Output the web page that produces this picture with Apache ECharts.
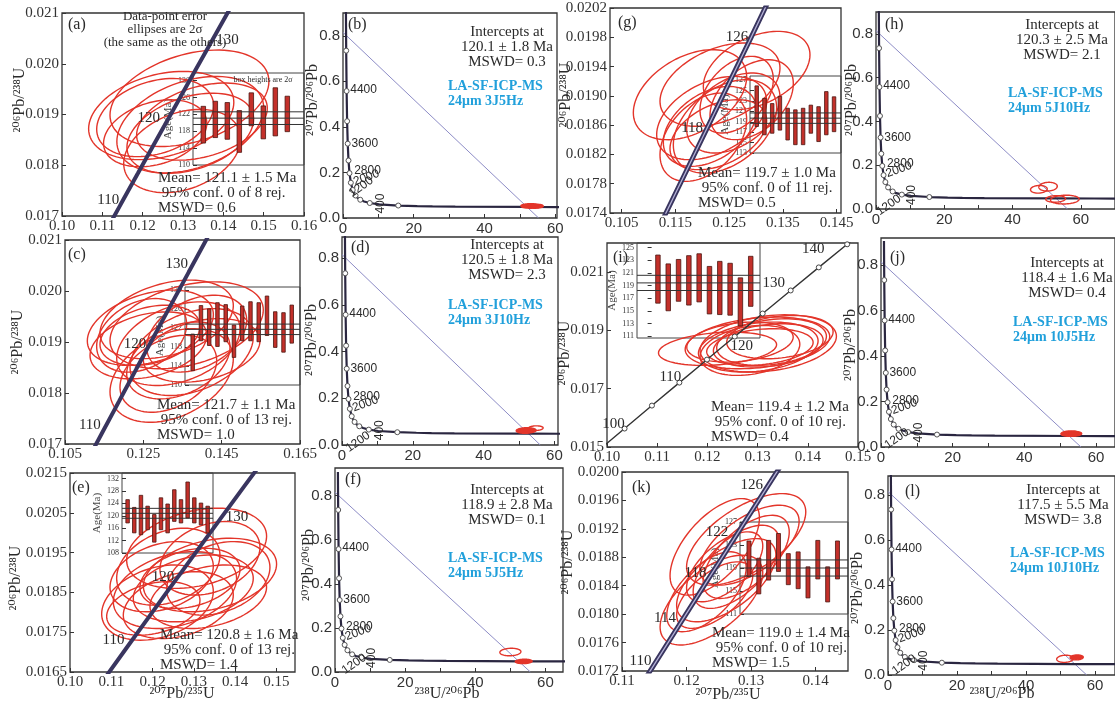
<!DOCTYPE html>
<html>
<head>
<meta charset="utf-8">
<script src="https://cdn.jsdelivr.net/npm/echarts@6/dist/echarts.min.js"></script>
<style>html,body{margin:0;background:#fff}#chart{width:1115px;height:709px}</style>
</head>
<body>
<div id="chart"></div>
<script>
// concordia reference points: age (Ma), 207Pb/235U, 206Pb/238U
const CONC_AGES = [95, 100, 105, 110, 114, 115, 118, 120, 122, 125, 126, 130, 135, 140, 145];
const CONC_X = [0.09808, 0.10350, 0.10895, 0.11442, 0.11882, 0.11992, 0.12323, 0.12545, 0.12767, 0.13101, 0.13212, 0.13659, 0.14219, 0.14784, 0.15350];
const CONC_Y = [0.014846, 0.015633, 0.016421, 0.017210, 0.017841, 0.018000, 0.018474, 0.018789, 0.019105, 0.019580, 0.019738, 0.020371, 0.021163, 0.021955, 0.022748];
// panel g concordia
const CONC_G_AGES = [106, 118, 126, 132];
const CONC_G_X = [0.1106, 0.1209, 0.1287, 0.1343];
const CONC_G_Y = [0.0170, 0.01856, 0.01974, 0.0206];

// Tera-Wasserburg concordia: age (Ma), 238U/206Pb, 207Pb/206Pb
const TW_AGES = [90, 100, 120, 200, 250, 300, 400, 600, 800, 1000, 1200, 1400, 1600, 2000, 2400, 2800, 3200, 3600, 4000, 4400, 4800, 5000, 5100];
const TW_X = [71.13, 63.97, 53.22, 31.74, 25.29, 20.99, 15.62, 10.25, 7.568, 5.959, 4.888, 4.122, 3.550, 2.749, 2.217, 1.838, 1.556, 1.337, 1.163, 1.022, 0.905, 0.853, 0.829];
const TW_Y = [0.04782, 0.04802, 0.04843, 0.05011, 0.05120, 0.05233, 0.05470, 0.05991, 0.06579, 0.07249, 0.08012, 0.08880, 0.09872, 0.12300, 0.15483, 0.19682, 0.25245, 0.3264, 0.4250, 0.5572, 0.7348, 0.8455, 0.9070];
const TW_MARKS = [400, 800, 1200, 1600, 2000, 2400, 2800, 3200, 3600, 4000, 4400, 4800];
const DISC_TOP = 0.815;
const DISC_END = [55.3, 56.0, 55.7, 56.1, 55.8, 57.6]; // b d f h j l

// error ellipses: [x, y, half-width x, half-height y, correlation, filled]
const ELL_A = [[0.1316,0.01932,0.0197,0.00095,0.35],[0.1246,0.01898,0.0180,0.00087,0.3],[0.1231,0.01894,0.0145,0.00077,0.3],[0.1318,0.01880,0.0182,0.00095,0.35],[0.1298,0.01828,0.0145,0.00082,0.3],[0.1318,0.01863,0.0157,0.00079,0.35],[0.1231,0.01863,0.0128,0.00066,0.3],[0.1347,0.01886,0.0162,0.00076,0.35]];
const ELL_C = [[0.12679,0.019279,0.01609,0.000738,0.35],[0.13096,0.019443,0.01702,0.00077,0.35],[0.13606,0.019328,0.01957,0.000852,0.35],[0.12457,0.019131,0.01149,0.000721,0.3],[0.12628,0.018934,0.01489,0.000656,0.3],[0.13394,0.018967,0.01574,0.00082,0.35],[0.13734,0.018803,0.01574,0.000852,0.35],[0.13989,0.018836,0.01489,0.000623,0.3],[0.13223,0.018344,0.01574,0.000918,0.35],[0.13394,0.018639,0.01319,0.000754,0.35],[0.1267,0.019131,0.01277,0.00059,0.3],[0.13862,0.019164,0.01277,0.000754,0.35],[0.13138,0.018377,0.01234,0.000754,0.35]];
const ELL_E = [[0.12119,0.018244,0.01352,0.000945,0.3],[0.12542,0.018559,0.01493,0.000966,0.3],[0.13067,0.019609,0.01695,0.001008,0.3],[0.1339,0.018937,0.01614,0.000924,0.3],[0.12381,0.019147,0.01251,0.000966,0.3],[0.12986,0.018601,0.01453,0.00084,0.3],[0.12018,0.018097,0.0113,0.000672,0.3],[0.13349,0.018391,0.01412,0.000798,0.3],[0.1222,0.018895,0.01251,0.000882,0.3],[0.1339,0.019357,0.01211,0.000924,0.3],[0.12623,0.018181,0.01332,0.00084,0.3],[0.12906,0.018853,0.01211,0.000756,0.3],[0.13592,0.018853,0.01251,0.000924,0.3]];
const ELL_G = [[0.11771,0.019016,0.01054,0.000615,0.4],[0.12329,0.019153,0.01116,0.000569,0.4],[0.13011,0.019346,0.00992,0.000535,0.4],[0.12174,0.018697,0.01023,0.000569,0.4],[0.12143,0.018583,0.00868,0.000546,0.4],[0.12422,0.018583,0.00961,0.000638,0.4],[0.12019,0.018435,0.00806,0.000603,0.4],[0.12577,0.018766,0.00868,0.000546,0.4],[0.12639,0.019016,0.00682,0.000524,0.4],[0.12298,0.01847,0.00899,0.000478,0.4],[0.12918,0.018948,0.00775,0.000546,0.4]];
const ELL_I = [[0.12202,0.018371,0.01176,0.000571,0.25],[0.12997,0.018571,0.0144,0.000886,0.25],[0.13212,0.018554,0.01358,0.000983,0.25],[0.13013,0.018429,0.01192,0.000857,0.25],[0.13278,0.0186,0.01093,0.0008,0.25],[0.12848,0.018314,0.00993,0.000857,0.25],[0.13444,0.018771,0.0106,0.000743,0.25],[0.13046,0.018429,0.0106,0.000629,0.25],[0.13212,0.018486,0.01093,0.000743,0.25],[0.12649,0.0186,0.0106,0.000686,0.25]];
const ELL_K = [[0.12385,0.018198,0.00795,0.000632,0.6],[0.12436,0.018947,0.00692,0.000679,0.6],[0.12923,0.019052,0.00923,0.000644,0.6],[0.12769,0.018666,0.00667,0.000585,0.6],[0.12308,0.018315,0.00615,0.000562,0.6],[0.12923,0.018806,0.00667,0.000585,0.6],[0.12615,0.018478,0.00769,0.000585,0.6],[0.12974,0.01897,0.00769,0.000562,0.6],[0.1259,0.018666,0.0059,0.000492,0.6],[0.12436,0.018268,0.0059,0.000468,0.6]];
const TW_ELL_B = [[53.5,0.052,3.0,0.009,0.2,1],[52.6,0.055,2.3,0.008,0.2,1],[54.6,0.050,2.0,0.007,0.2,1]];
const TW_ELL_D = [[52.0,0.062,2.8,0.012,0.1,1],[54.7,0.072,2.1,0.010,0.1,0]];
const TW_ELL_F = [[50.0,0.0906,3.0,0.017,0.1,0],[53.8,0.048,2.4,0.010,0.1,1]];
const TW_ELL_H = [[47.7,0.090,2.45,0.0175,0.1,0],[50.4,0.102,2.7,0.02,0.1,0],[52.6,0.046,2.9,0.015,0.1,0],[55.3,0.043,4.2,0.020,0.1,0]];
const TW_ELL_J = [[52.8,0.059,2.6,0.012,0.1,1],[54.0,0.058,2.0,0.010,0.1,1]];
const TW_ELL_L = [[51.3,0.072,2.4,0.016,0.1,0],[54.7,0.078,1.9,0.011,0.1,1]];

// weighted-mean age boxes: [low, high] (Ma)
const BARS_A = [[115.2,123.9],[116.5,125.1],[116.1,124.8],[113.0,122.9],[119.3,127.1],[116.2,124.0],[116.9,128.3],[117.9,126.3]];
const BARS_C = [[113.0,120.7],[119.3,126.7],[118.3,126.0],[118.1,127.3],[119.1,126.9],[115.8,122.6],[119.3,126.6],[119.3,127.5],[119.1,127.3],[120.4,128.7],[117.9,125.4],[116.9,125.2],[118.8,126.8]];
const BARS_E = [[117.7,125.2],[114.5,122.7],[113.9,126.6],[115.5,123.1],[111.5,120.4],[115.5,125.8],[114.5,123.8],[118.2,128.4],[117.7,125.2],[119.3,130.9],[117.7,125.8],[117.1,124.1],[114.5,123.1]];
const BARS_G = [[118.1,125.9],[116.5,123.5],[116.8,122.5],[117.4,123.9],[115.5,121.6],[114.6,121.3],[114.6,121.6],[116.8,122.2],[115.2,121.9],[116.5,124.8],[117.1,123.8]];
const BARS_I = [[116.2,123.8],[115.0,122.4],[116.5,123.1],[115.9,123.7],[116.4,124.0],[114.5,122.0],[114.4,122.8],[114.3,122.5],[112.6,120.2],[115.7,123.6]];
const BARS_K = [[117.5,123.7],[114.5,120.7],[116.9,123.8],[118.4,125.0],[116.1,121.5],[115.4,121.8],[113.8,119.2],[117.1,123.8],[113.1,119.2],[117.1,123.7]];
// weighted mean [age, 2s error, n, MSWD]
const MEAN_A = [121.1, 1.5, 8, '0.6'];
const MEAN_C = [121.7, 1.1, 13, '1.0'];
const MEAN_E = [120.8, 1.6, 13, '1.4'];
const MEAN_G = [119.7, 1.0, 11, '0.5'];
const MEAN_I = [119.4, 1.2, 10, '0.4'];
const MEAN_K = [119.0, 1.4, 10, '1.5'];
// lower intercepts [age, error, MSWD] and run settings
const ICPT = [[120.1, 1.8, '0.3'], [120.5, 1.8, '2.3'], [118.9, 2.8, '0.1'], [120.3, 2.5, '2.1'], [118.4, 1.6, '0.4'], [117.5, 5.5, '3.8']];
const RUNS = ['24μm 3J5Hz', '24μm 3J10Hz', '24μm 5J5Hz', '24μm 5J10Hz', '24μm 10J5Hz', '24μm 10J10Hz'];

// tick labels
const XT_A = [0.10, 0.11, 0.12, 0.13, 0.14, 0.15, 0.16];
const YT_A = [0.017, 0.018, 0.019, 0.020, 0.021];
const XT_C = [0.105, 0.125, 0.145, 0.165];
const XT_E = [0.10, 0.11, 0.12, 0.13, 0.14, 0.15];
const YT_E = [0.0165, 0.0175, 0.0185, 0.0195, 0.0205, 0.0215];
const XT_G = [0.105, 0.115, 0.125, 0.135, 0.145];
const YT_G = [0.0174, 0.0178, 0.0182, 0.0186, 0.0190, 0.0194, 0.0198, 0.0202];
const XT_I = [0.10, 0.11, 0.12, 0.13, 0.14, 0.15];
const YT_I = [0.015, 0.017, 0.019, 0.021];
const XT_K = [0.11, 0.12, 0.13, 0.14];
const YT_K = [0.0172, 0.0176, 0.0180, 0.0184, 0.0188, 0.0192, 0.0196, 0.0200];
const XT_TW = [0, 20, 40, 60];
const XTICK_TW = [0, 10, 20, 30, 40, 50, 60, 70];
const YT_TW = [0, 0.2, 0.4, 0.6, 0.8];

const SERIF = '"Liberation Serif","DejaVu Serif",serif';
const SANS = '"Liberation Sans","DejaVu Sans",sans-serif';
const RED = '#e3352a';
const INK = '#2a2a2a';

const grids = [], xAxes = [], yAxes = [], series = [], graphics = [];

function addGrid(r, xa, ya, border) {
  const gi = grids.length;
  grids.push({ left: r[0], top: r[1], width: r[2], height: r[3], show: true, borderColor: border || '#333', borderWidth: border ? 1 : 1.3, backgroundColor: 'transparent' });
  xAxes.push(Object.assign({ gridIndex: gi }, xa));
  yAxes.push(Object.assign({ gridIndex: gi }, ya));
  return gi;
}

function axisCfg(range, labels, ticks, digits, font, size) {
  return {
    type: 'value', min: range[0], max: range[1],
    splitLine: { show: false }, axisLine: { show: false },
    axisTick: { show: true, inside: true, length: 4, customValues: ticks, lineStyle: { color: '#333' } },
    axisLabel: { customValues: labels, formatter: v => v.toFixed(digits), fontFamily: font, fontSize: size, color: '#333', margin: 3 }
  };
}

function ellipseItem(params, api) {
  const cx = api.value(0), cy = api.value(1), sx = api.value(2), sy = api.value(3), r = api.value(4);
  const solid = api.value(5) === 1;
  const q = Math.sqrt(1 - r * r);
  const pts = [];
  for (let k = 0; k < 90; k++) {
    const t = k / 90 * Math.PI * 2;
    pts.push(api.coord([cx + sx * Math.cos(t), cy + sy * (r * Math.cos(t) + q * Math.sin(t))]));
  }
  return { type: 'polygon', shape: { points: pts }, style: { fill: solid ? RED : 'none', stroke: RED, lineWidth: 1.4 } };
}

function barItem(w) {
  return function (params, api) {
    const a = api.coord([api.value(0), api.value(2)]);
    const b = api.coord([api.value(0), api.value(1)]);
    return { type: 'rect', shape: { x: a[0] - w / 2, y: a[1], width: w, height: b[1] - a[1] }, style: { fill: '#c3302a', stroke: '#4a1510', lineWidth: 0.8 } };
  };
}

function txt(x, y, text, o) {
  o = o || {};
  graphics.push({
    type: 'text', x: x, y: y, z: 100, rotation: o.rot || 0,
    style: { text: text, fill: o.color || INK, fontFamily: o.font || SERIF, fontSize: o.size || 15, fontWeight: o.weight || 'normal', align: o.align || 'left', verticalAlign: 'middle', lineHeight: o.lh || 15 }
  });
}

const hidden = { color: 'transparent', opacity: 1 };

function wetherill(s) {
  const g = addGrid(s.rect, axisCfg(s.xr, s.xt, s.xt, s.xd, SERIF, 15), axisCfg(s.yr, s.yt, s.yt, s.yd, SERIF, 15));
  const ax = { xAxisIndex: g, yAxisIndex: g };
  series.push(Object.assign({ type: 'custom', clip: true, silent: true, z: 2, data: s.ell, renderItem: ellipseItem }, ax));
  const conc = s.ages.map((a, i) => [s.cx[i], s.cy[i], a]);
  const line = Object.assign({ type: 'line', data: conc, showSymbol: false, clip: true, silent: true }, ax);
  if (s.thin) {
    series.push(Object.assign({}, line, { z: 4, lineStyle: { color: '#333', width: 1.4 } }));
    series.push(Object.assign({ type: 'scatter', z: 5, silent: true, data: conc.filter(p => p[2] % 5 === 0 && p[2] >= 100 && p[2] <= 140), symbolSize: 5, itemStyle: { color: '#fff', borderColor: '#444', borderWidth: 1, opacity: 1 } }, ax));
  } else {
    series.push(Object.assign({}, line, { z: 4, lineStyle: { color: '#39355f', width: s.band ? 5 : 4 } }));
    if (s.band) series.push(Object.assign({}, line, { z: 5, lineStyle: { color: '#b4b1d6', width: 1.3 } }));
  }
  series.push(Object.assign({
    type: 'scatter', z: 7, silent: true, symbolSize: 1, itemStyle: hidden,
    data: s.labels.map(l => ({ value: conc.find(p => p[2] === l[0]), label: { offset: [l[1], l[2]] } })),
    label: { show: true, position: 'inside', formatter: p => String(p.value[2]), fontFamily: SERIF, fontSize: 15, color: INK }
  }, ax));

  // inset of weighted-mean ages
  const ins = s.inset;
  const ig = addGrid(ins.rect,
    { type: 'value', min: ins.xr[0], max: ins.xr[1], show: false, splitLine: { show: false } },
    Object.assign(axisCfg(ins.yr, ins.yt, ins.yt, 0, SERIF, 8), {
      name: 'Age(Ma)', nameLocation: 'middle', nameGap: ins.gap, nameTextStyle: { fontFamily: SERIF, fontSize: 11, color: '#444' }
    }), '#444');
  const iax = { xAxisIndex: ig, yAxisIndex: ig };
  series.push(Object.assign({ type: 'custom', z: 6, silent: true, data: ins.bars.map((b, i) => [i + 1, b[0], b[1]]), renderItem: barItem(ins.w) }, iax));
  const m = s.mean;
  [m[0] + m[1], m[0], m[0] - m[1]].forEach(v => {
    series.push(Object.assign({ type: 'line', z: 7, silent: true, showSymbol: false, data: [[ins.xr[0], v], [ins.xr[1], v]], lineStyle: { color: '#333', width: 1 } }, iax));
  });
  txt(s.letter[0], s.letter[1], s.letter[2], { size: 16 });
  txt(s.meanPos[0], s.meanPos[1], 'Mean= ' + m[0].toFixed(1) + ' ± ' + m[1].toFixed(1) + ' Ma\n 95% conf. 0 of ' + m[2] + ' rej.\nMSWD= ' + m[3], { size: 15 });
}

function tera(s, k) {
  const g = addGrid(s.rect, axisCfg([0, s.xmax], XT_TW, XTICK_TW, 0, SANS, 15), axisCfg([0, s.ymax], YT_TW, YT_TW, 1, SANS, 15));
  const ax = { xAxisIndex: g, yAxisIndex: g };
  series.push(Object.assign({ type: 'line', z: 3, silent: true, showSymbol: false, data: [[0, DISC_TOP], [DISC_END[k], 0]], lineStyle: { color: '#8d8cc6', width: 1 } }, ax));
  const tw = TW_AGES.map((a, i) => [TW_X[i], TW_Y[i], a]);
  series.push(Object.assign({ type: 'line', z: 4, silent: true, clip: true, showSymbol: false, data: tw, lineStyle: { color: '#2a2640', width: 2.2 } }, ax));
  series.push(Object.assign({ type: 'scatter', z: 5, silent: true, symbolSize: 5, data: tw.filter(p => TW_MARKS.includes(p[2])), itemStyle: { color: '#fff', borderColor: '#555', borderWidth: 1, opacity: 1 } }, ax));
  const lab = [[400, 2, -18, 90], [1200, s.l1200[0], s.l1200[1], 35], [2000, 17, -7, 20], [2800, 18, -2, 0], [3600, 17, 0, 0], [4400, 17, -1, 0]];
  series.push(Object.assign({
    type: 'scatter', z: 6, silent: true, symbolSize: 1, itemStyle: hidden,
    data: lab.map(l => ({ value: tw.find(p => p[2] === l[0]), label: { offset: [l[1], l[2]], rotate: l[3] } })),
    label: { show: true, position: 'inside', formatter: p => String(p.value[2]), fontFamily: SANS, fontSize: 12, color: INK }
  }, ax));
  series.push(Object.assign({ type: 'custom', clip: true, silent: true, z: 7, data: s.ell, renderItem: ellipseItem }, ax));
  const c = ICPT[k];
  txt(s.letter[0], s.letter[1], s.letter[2], { size: 16 });
  txt(s.icpt[0], s.icpt[1], 'Intercepts at\n' + c[0].toFixed(1) + ' ± ' + c[1].toFixed(1) + ' Ma\nMSWD= ' + c[2], { align: 'center', lh: 15 });
  txt(s.run[0], s.run[1], 'LA-SF-ICP-MS\n' + RUNS[k], { color: '#21a0db', weight: 'bold', size: 14, lh: 15 });
}

wetherill({ rect: [62, 13, 242, 203], xr: [0.10, 0.16], yr: [0.017, 0.021], xt: XT_A, yt: YT_A, xd: 2, yd: 3,
  ell: ELL_A, ages: CONC_AGES, cx: CONC_X, cy: CONC_Y, labels: [[110, -12, -5], [120, -16, -7], [130, 18, -5]],
  inset: { rect: [193, 73, 111, 92], xr: [0.14, 9.39], yr: [110, 131.8], yt: [110, 114, 118, 122, 126, 130], bars: BARS_A, w: 4.5, gap: 16 },
  mean: MEAN_A, letter: [68, 25, '(a)'], meanPos: [158, 193] });
wetherill({ rect: [65, 240, 235, 204], xr: [0.105, 0.165], yr: [0.017, 0.021], xt: XT_C, yt: YT_A, xd: 3, yd: 3,
  ell: ELL_C, ages: CONC_AGES, cx: CONC_X, cy: CONC_Y, labels: [[110, -12, -8], [120, -10, -9], [130, -12, -8]],
  inset: { rect: [185, 287, 115, 98], xr: [0.067, 14.0], yr: [110, 130.6], yt: [110, 114, 118, 122, 126, 130], bars: BARS_C, w: 3.5, gap: 14 },
  mean: MEAN_C, letter: [68, 255, '(c)'], meanPos: [157, 420] });
wetherill({ rect: [70, 473, 225, 199], xr: [0.10, 0.1545], yr: [0.0165, 0.0215], xt: XT_E, yt: YT_E, xd: 2, yd: 4,
  ell: ELL_E, ages: CONC_AGES, cx: CONC_X, cy: CONC_Y, labels: [[110, -16, -4], [120, -12, -4], [130, 16, -1]],
  inset: { rect: [122, 473, 91, 80], xr: [0.16, 13.8], yr: [108, 133.8], yt: [108, 112, 116, 120, 124, 128, 132], bars: BARS_E, w: 3.5, gap: 16 },
  mean: MEAN_E, letter: [72, 488, '(e)'], meanPos: [160, 650] });
wetherill({ rect: [610, 8, 231, 205], xr: [0.10283, 0.1458], yr: [0.0174, 0.0202], xt: XT_G, yt: YT_G, xd: 3, yd: 4, band: true,
  ell: ELL_G, ages: CONC_G_AGES, cx: CONC_G_X, cy: CONC_G_Y, labels: [[118, -15, 0], [126, -12, -5]],
  inset: { rect: [750, 76, 91, 77], xr: [0.133, 11.9], yr: [113, 127.8], yt: [113, 115, 117, 119, 121, 123, 125, 127], bars: BARS_G, w: 3.5, gap: 14 },
  mean: MEAN_G, letter: [618, 23, '(g)'], meanPos: [698, 188] });
wetherill({ rect: [607, 243, 251, 204], xr: [0.10, 0.15], yr: [0.015, 0.022], xt: XT_I, yt: YT_I, xd: 2, yd: 3, thin: true,
  ell: ELL_I, ages: CONC_AGES, cx: CONC_X, cy: CONC_Y, labels: [[100, -11, -4], [110, -9, -6], [120, 7, 9], [130, -17, -7], [140, -34, 5]],
  inset: { rect: [637, 243, 123, 95], xr: [-1.03, 10.9], yr: [110.7, 125.7], yt: [111, 113, 115, 117, 119, 121, 123, 125], bars: BARS_I, w: 4.5, gap: 17 },
  mean: MEAN_I, letter: [613, 258, '(i)'], meanPos: [711, 422] });
wetherill({ rect: [622, 472, 226, 199], xr: [0.11, 0.145], yr: [0.0172, 0.0200], xt: XT_K, yt: YT_K, xd: 2, yd: 4, band: true,
  ell: ELL_K, ages: CONC_AGES, cx: CONC_X, cy: CONC_Y, labels: [[110, -10, -9], [114, -14, -7], [118, -12, -7], [122, -19, -4], [126, -13, -6]],
  inset: { rect: [740, 522, 108, 92], xr: [0.087, 11.07], yr: [111, 127], yt: [111, 115, 119, 123, 127], bars: BARS_K, w: 4, gap: 14 },
  mean: MEAN_K, letter: [632, 488, '(k)'], meanPos: [712, 648] });

tera({ rect: [343, 13, 214, 205], xmax: 60.5, ymax: 0.9, ell: TW_ELL_B, l1200: [8, -10], letter: [348, 25, '(b)'], icpt: [507, 47], run: [448, 94] }, 0);
tera({ rect: [342, 237, 216, 208], xmax: 61, ymax: 0.89, ell: TW_ELL_D, l1200: [-10, 12], letter: [351, 248, '(d)'], icpt: [507, 260], run: [448, 313] }, 1);
tera({ rect: [335, 468, 228, 204], xmax: 65, ymax: 0.925, ell: TW_ELL_F, l1200: [-4, 9], letter: [345, 480, '(f)'], icpt: [507, 505], run: [448, 566] }, 2);
tera({ rect: [876, 12, 239, 197], xmax: 70, ymax: 0.9, ell: TW_ELL_H, l1200: [-11, 9], letter: [885, 25, '(h)'], icpt: [1062, 40], run: [1008, 101] }, 3);
tera({ rect: [881, 238, 234, 209], xmax: 65.3, ymax: 0.92, ell: TW_ELL_J, l1200: [-7, 7], letter: [890, 258, '(j)'], icpt: [1067, 278], run: [1013, 330] }, 4);
tera({ rect: [888, 476, 227, 199], xmax: 65.8, ymax: 0.884, ell: TW_ELL_L, l1200: [-5, 6], letter: [905, 492, '(l)'], icpt: [1063, 505], run: [1010, 561] }, 5);

// notes and axis titles
txt(165, 30, 'Data-point error\nellipses are 2σ\n(the same as the others)', { align: 'center', size: 13, lh: 13 });
txt(263, 80, 'box heights are 2σ', { align: 'center', size: 8 });
const V = Math.PI / 2;
[[20, 100], [18, 342], [16, 578], [566, 95], [565, 353], [568, 562]].forEach(p => txt(p[0], p[1], '²⁰⁶Pb/²³⁸U', { rot: V, align: 'center', size: 16 }));
[[313, 100], [312, 340], [309, 565], [852, 100], [851, 345], [858, 588]].forEach(p => txt(p[0], p[1], '²⁰⁷Pb/²⁰⁶Pb', { rot: V, align: 'center', size: 16 }));
txt(182, 694, '²⁰⁷Pb/²³⁵U', { align: 'center', size: 16 });
txt(728, 695, '²⁰⁷Pb/²³⁵U', { align: 'center', size: 16 });
txt(447, 694, '²³⁸U/²⁰⁶Pb', { align: 'center', size: 16 });
txt(1002, 694, '²³⁸U/²⁰⁶Pb', { align: 'center', size: 16 });

const chart = echarts.init(document.getElementById('chart'));
chart.setOption({
  backgroundColor: '#fff',
  animation: false,
  grid: grids, xAxis: xAxes, yAxis: yAxes, series: series, graphic: graphics
});
</script>
</body>
</html>
